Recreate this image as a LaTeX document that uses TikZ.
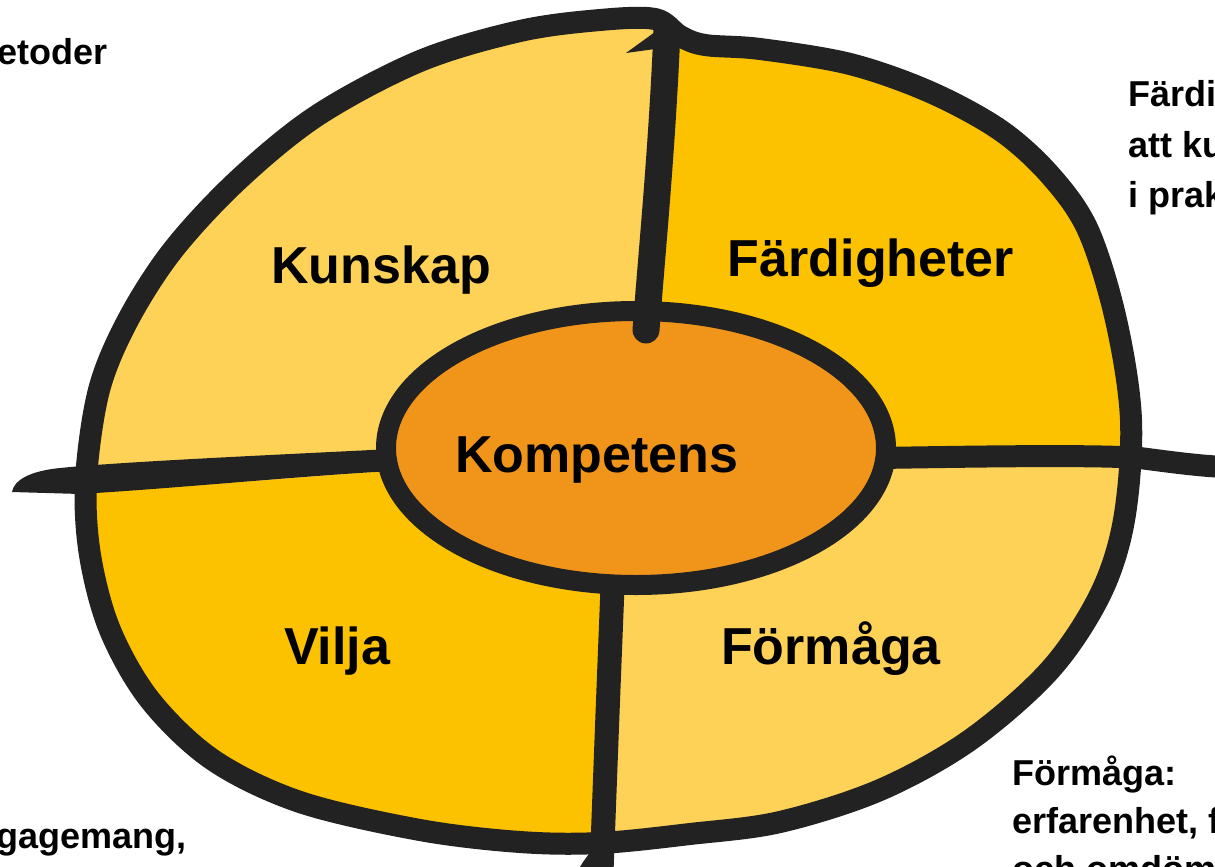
\documentclass[tikz,border=0pt]{standalone}
\usepackage{fontspec}
\setmainfont{Liberation Sans}
\definecolor{lightY}{HTML}{FDD257}
\definecolor{darkY}{HTML}{FCC200}
\definecolor{coreO}{HTML}{F0951A}
\definecolor{ink}{HTML}{222222}
\newcommand\outerpts{plot[smooth cycle, tension=0.55] coordinates {
 (86,480) (99,390) (128,320) (173,250) (238,180) (318,115) (420,61) (520,31)
 (600,20) (655,19) (680,36) (705,45) (760,49) (850,64) (930,92) (1000,130)
 (1050,175) (1088,230) (1116,320) (1131,420) (1124,520) (1100,595) (1050,670)
 (970,740) (880,790) (780,822) (690,834) (600,843) (520,842) (420,830) (300,802)
 (213,760) (150,700) (110,630) (90,555)}}
\begin{document}
\begin{tikzpicture}[x=1pt,y=-1pt,
  outline/.style={draw=ink, line width=22pt, line join=round},
  core/.style={draw=ink, line width=20pt},
  divider/.style={draw=ink, line width=24pt},
  title/.style={font=\bfseries\fontsize{52}{60}\selectfont, inner sep=0pt, anchor=base},
  side/.style={font=\bfseries\fontsize{36}{44}\selectfont, inner sep=0pt, anchor=base west}]
\useasboundingbox (0,0) rectangle (1215,867);
\clip (0,0) rectangle (1215,867);
% quadrant fills
\begin{scope}
  \clip \outerpts;
  \fill[lightY] (0,0) rectangle (1215,867);
  \fill[darkY] (666,0) -- (1215,0) -- (1215,458) -- (640,458) -- (646,330) -- (660,150) -- cycle;
  \fill[darkY] (0,492) -- (80,494) -- (390,471) -- (620,460) -- (612,590) -- (601,867) -- (0,867) -- cycle;
\end{scope}
% centre
\coordinate (c) at (636,448);
\fill[coreO] (c) ellipse [x radius=250pt, y radius=137pt];
% divider end points
\coordinate (topA) at (667,30);
\coordinate (topB) at (646,330);
\coordinate (botA) at (613,575);
\coordinate (botB) at (601,885);
\coordinate (rA) at (880,458);
\coordinate (rB) at (1225,467);
% dividers
\draw[divider, line width=27pt, line cap=round] (topA) .. controls (662,150) and (652,250) .. (topB);
\fill[ink] (655,32) -- (626,53) -- (655,49) -- cycle;
\draw[divider] (botA) .. controls (608,700) .. (botB);
\fill[ink] (592,845) .. controls (592,852) and (585,858) .. (580,867) -- (600,867) -- cycle;
\draw[divider, line width=22pt] (rA) .. controls (1000,456) and (1100,455) .. (1140,458) .. controls (1170,462) and (1200,466) .. (rB);
\fill[ink] (392,449) .. controls (250,456) and (120,462) .. (60,468) .. controls (30,471) and (14,480) .. (12,492) -- (80,494) .. controls (180,488) and (300,476) .. (392,471) -- cycle;
% outlines
\draw[outline] \outerpts;
\draw[core] (c) ellipse [x radius=250pt, y radius=137pt];
% labels
\node[title] (kunskap) at (381,283) {Kunskap};
\node[title] (fard) at (871,276) {Färdigheter};
\node[title] (komp) at (597,472) {Kompetens};
\node[title] (vilja) at (337,664) {Vilja};
\node[title] (form) at (831,664) {Förmåga};
% side texts
\node[side, anchor=base east] (t1) at (108,65) {etoder};
\node[side] (t2) at (1128,106) {Färdi};
\node[side] (t3) at (1128,157) {att ku};
\node[side] (t4) at (1128,207) {i prak};
\node[side] (t5) at (1012,785) {Förmåga:};
\node[side] (t6) at (1012,833) {erfarenhet, f};
\node[side] (t7) at (1012,881) {och omdöm};
\node[side] (t8) at (-4,848) {gagemang,};
\end{tikzpicture}
\end{document}
